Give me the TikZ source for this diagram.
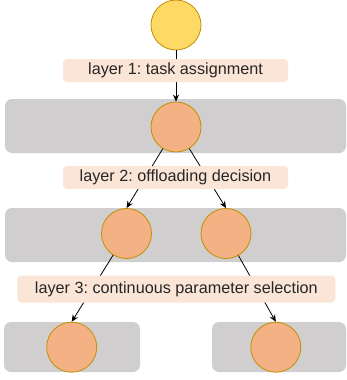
\documentclass[tikz,border=0pt]{standalone}
\usepackage{fontspec}
\setmainfont{Liberation Sans}
\frenchspacing
\usetikzlibrary{arrows.meta}
\definecolor{gold}{HTML}{FFD966}
\definecolor{goldline}{HTML}{BF9000}
\definecolor{orangefill}{HTML}{F4B183}
\definecolor{band}{HTML}{D0CECE}
\definecolor{labelfill}{HTML}{FBE5D6}
\tikzset{
  bandbox/.style={fill=band, draw=none, rounded corners=7pt},
  topnode/.style={circle, fill=gold, draw=goldline, line width=0.8pt, minimum size=50pt, inner sep=0pt},
  statenode/.style={circle, fill=orangefill, draw=goldline, line width=0.8pt, minimum size=50pt, inner sep=0pt},
  layerlabel/.style={fill=labelfill, rounded corners=4pt, inner sep=0pt, font=\fontsize{16.2}{19}\selectfont\frenchspacing, text=black!85},
  conn/.style={-{Stealth[length=7pt,width=6pt]}, line width=0.8pt, black}
}
\begin{document}
\begin{tikzpicture}[x=1pt,y=-1pt]
\useasboundingbox (0,0) rectangle (347,380);
% bands
\path[bandbox] (5,99) rectangle (346,153);
\path[bandbox] (5,208) rectangle (346,262);
\path[bandbox] (4,322) rectangle (140,372);
\path[bandbox] (212,322) rectangle (346,372);
% nodes
\node[topnode] (n0) at (176,25) {};
\node[statenode] (n1) at (176,127) {};
\node[statenode] (n2) at (126.5,233.5) {};
\node[statenode] (n3) at (226,233.5) {};
\node[statenode] (n4) at (71.7,347.2) {};
\node[statenode] (n5) at (275.8,347.2) {};
% connectors
\draw[conn] (n0) -- (n1.north);
\draw[conn] (n1) -- (n2.north);
\draw[conn] (n1) -- (n3.north);
\draw[conn] (n2) -- (n4.north);
\draw[conn] (n3) -- (n5.north);
% labels
\node[layerlabel, minimum width=225pt, minimum height=23pt] (l1) at (175.5,70.5) {layer 1: task assignment};
\node[layerlabel, minimum width=225pt, minimum height=23pt] (l2) at (175.5,177.5) {layer 2: offloading decision};
\node[layerlabel, minimum width=318pt, minimum height=27pt] (l3) at (176.3,289) {layer 3: continuous parameter selection};
\end{tikzpicture}
\end{document}
